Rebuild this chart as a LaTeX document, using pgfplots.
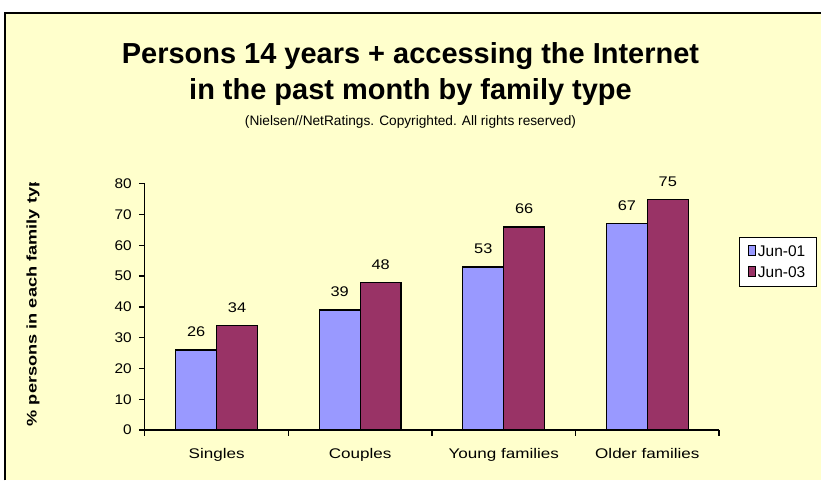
\documentclass[border=0pt]{standalone}
\usepackage{pgfplots}
\pgfplotsset{compat=1.18}
\usepackage{fontspec}
\setmainfont{Liberation Sans}
\definecolor{bgy}{HTML}{FFFFCC}
\definecolor{barblue}{HTML}{9999FF}
\definecolor{barred}{HTML}{993366}
\begin{document}
\begin{tikzpicture}[x=1pt,y=1pt]
\fill[white] (0,0) rectangle (822,481);
\fill[bgy] (5,0) rectangle (822,468);
\draw[black, line width=2pt] (5,0) -- (5,468) -- (822,468);
\node[font=\fontsize{29}{36}\selectfont\bfseries, anchor=base, inner sep=0pt] at (411, 481-63.5) {Persons 14 years + accessing the Internet};
\node[font=\fontsize{29}{36}\selectfont\bfseries, anchor=base, inner sep=0pt] at (411, 481-99.5) {in the past month by family type};
\node[font=\fontsize{13.7}{15}\selectfont, anchor=base, inner sep=0pt] at (411, 481-126) {(Nielsen//NetRatings. Copyrighted. All rights reserved)};
\begin{axis}[
  at={(145pt,50.5pt)}, anchor=south west,
  scale only axis, width=575pt, height=246.5pt,
  xmin=-0.5, xmax=3.5, ymin=0, ymax=80,
  axis x line*=bottom, axis y line*=left,
  axis line style={line width=1.3pt, -},
  ybar=0pt, bar width=41pt,
  xtick={-0.5,0.5,1.5,2.5,3.5},
  x tick label as interval,
  xticklabels={Singles,Couples,Young families,Older families},
  ytick={0,10,...,80},
  tick align=outside, major tick length=6pt,
  tick style={black, line width=1.3pt},
  /pgf/number format/assume math mode=true,
  y tick label style={font=\fontsize{14}{16}\selectfont, xscale=1.1, xshift=-3pt},
  x tick label style={font=\fontsize{14}{16}\selectfont, xscale=1.22, yshift=-9pt},
  nodes near coords,
  every node near coord/.append style={font=\fontsize{14}{16}\selectfont, xscale=1.17, anchor=base, yshift=13pt, black},
  legend style={at={(1.034,0.785)}, anchor=north west, draw=black, line width=1.1pt, fill=white,
    font=\fontsize{15.5}{17}\selectfont, row sep=5pt, inner xsep=9pt, inner ysep=6pt},
  legend image code/.code={\draw[#1, line width=0.8pt] (0pt,-4pt) rectangle (7pt,6pt);},
  legend cell align=left,
]
\addplot[fill=barblue, draw=black, line width=1.3pt] coordinates {(0,26) (1,39) (2,53) (3,67)};
\addplot[fill=barred, draw=black, line width=1.3pt] coordinates {(0,34) (1,48) (2,66) (3,75)};
\legend{Jun-01,Jun-03}
\end{axis}
\begin{scope}
\clip (0,0) rectangle (100,298);
\node[rotate=90, xscale=1.3, anchor=west, inner sep=0pt, font=\fontsize{14}{16}\selectfont\bfseries] at (33,54) {\% persons in each family type};
\end{scope}
\end{tikzpicture}
\end{document}
